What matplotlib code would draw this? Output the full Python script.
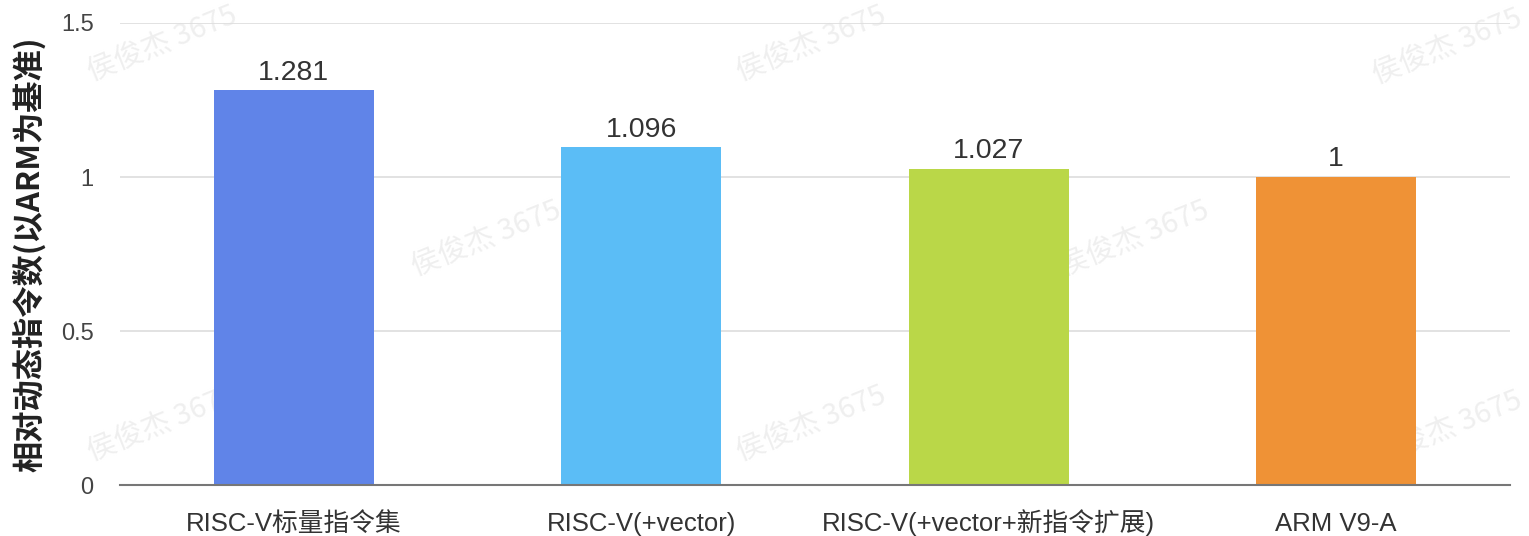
import numpy as np
import matplotlib
matplotlib.use('Agg')
import matplotlib.pyplot as plt

plt.rcParams['font.family'] = ['Liberation Sans', 'Noto Sans CJK SC', 'DejaVu Sans']

# Data
categories = ['RISC-V标量指令集', 'RISC-V(+vector)', 'RISC-V(+vector+新指令扩展)', 'ARM V9-A']
values = [1.281, 1.096, 1.027, 1]
value_labels = ['1.281', '1.096', '1.027', '1']
colors = ['#6084E8', '#5BBDF6', '#BAD748', '#EF9236']
yticks = [0, 0.5, 1, 1.5]
ytick_labels = ['0', '0.5', '1', '1.5']
ylabel = '相对动态指令数(以ARM为基准)'
watermark = '侯俊杰 3675'

fig = plt.figure(figsize=(15.29, 5.36), dpi=100)
ax = fig.add_axes([0.0785, 0.0951, 0.909, 0.862])
ax.patch.set_alpha(0)

x = np.arange(len(categories))
ax.bar(x, values, width=0.46, color=colors, zorder=3)
for xi, v, lab in zip(x, values, value_labels):
    ax.text(xi, v + 0.015, lab, ha='center', va='bottom', fontsize=20.5, color='#333333', zorder=4)

ax.set_xlim(-0.5, len(categories) - 0.5)
ax.set_ylim(0, 1.5)
ax.set_yticks(yticks)
ax.set_yticklabels(ytick_labels, fontsize=17, color='#444444')
ax.set_xticks(x)
ax.set_xticklabels(categories, fontsize=18.5, color='#333333')
for lab in ax.get_xticklabels():
    lab.set_verticalalignment('baseline')
ax.tick_params(axis='both', length=0)
ax.tick_params(axis='x', pad=33)
ax.tick_params(axis='y', pad=19)
ax.yaxis.grid(True, color='#dddddd', linewidth=1.2, zorder=0)
for s in ['top', 'right', 'left']:
    ax.spines[s].set_visible(False)
ax.spines['bottom'].set_color('#777777')
ax.spines['bottom'].set_linewidth(1.5)
ax.spines['bottom'].set_zorder(5)
ax.set_ylabel(ylabel, fontsize=22.5, fontweight='bold', color='#222222',
              family=['Noto Sans CJK SC', 'DejaVu Sans'])
ax.yaxis.set_label_coords(-0.053, 0.5)

# Watermarks (behind the axes content)
wm_pos = [(163, 45), (812, 45), (1448, 48), (487, 240), (1135, 240),
          (163, 425), (812, 425), (1448, 430)]
for px, py in wm_pos:
    fig.text(px / 1529, 1 - py / 536, watermark, fontsize=21, color='#efefef',
             rotation=22, ha='center', va='center', zorder=-1,
             family=['Noto Sans CJK SC', 'DejaVu Sans'])

fig.savefig('out.png', dpi=100)
